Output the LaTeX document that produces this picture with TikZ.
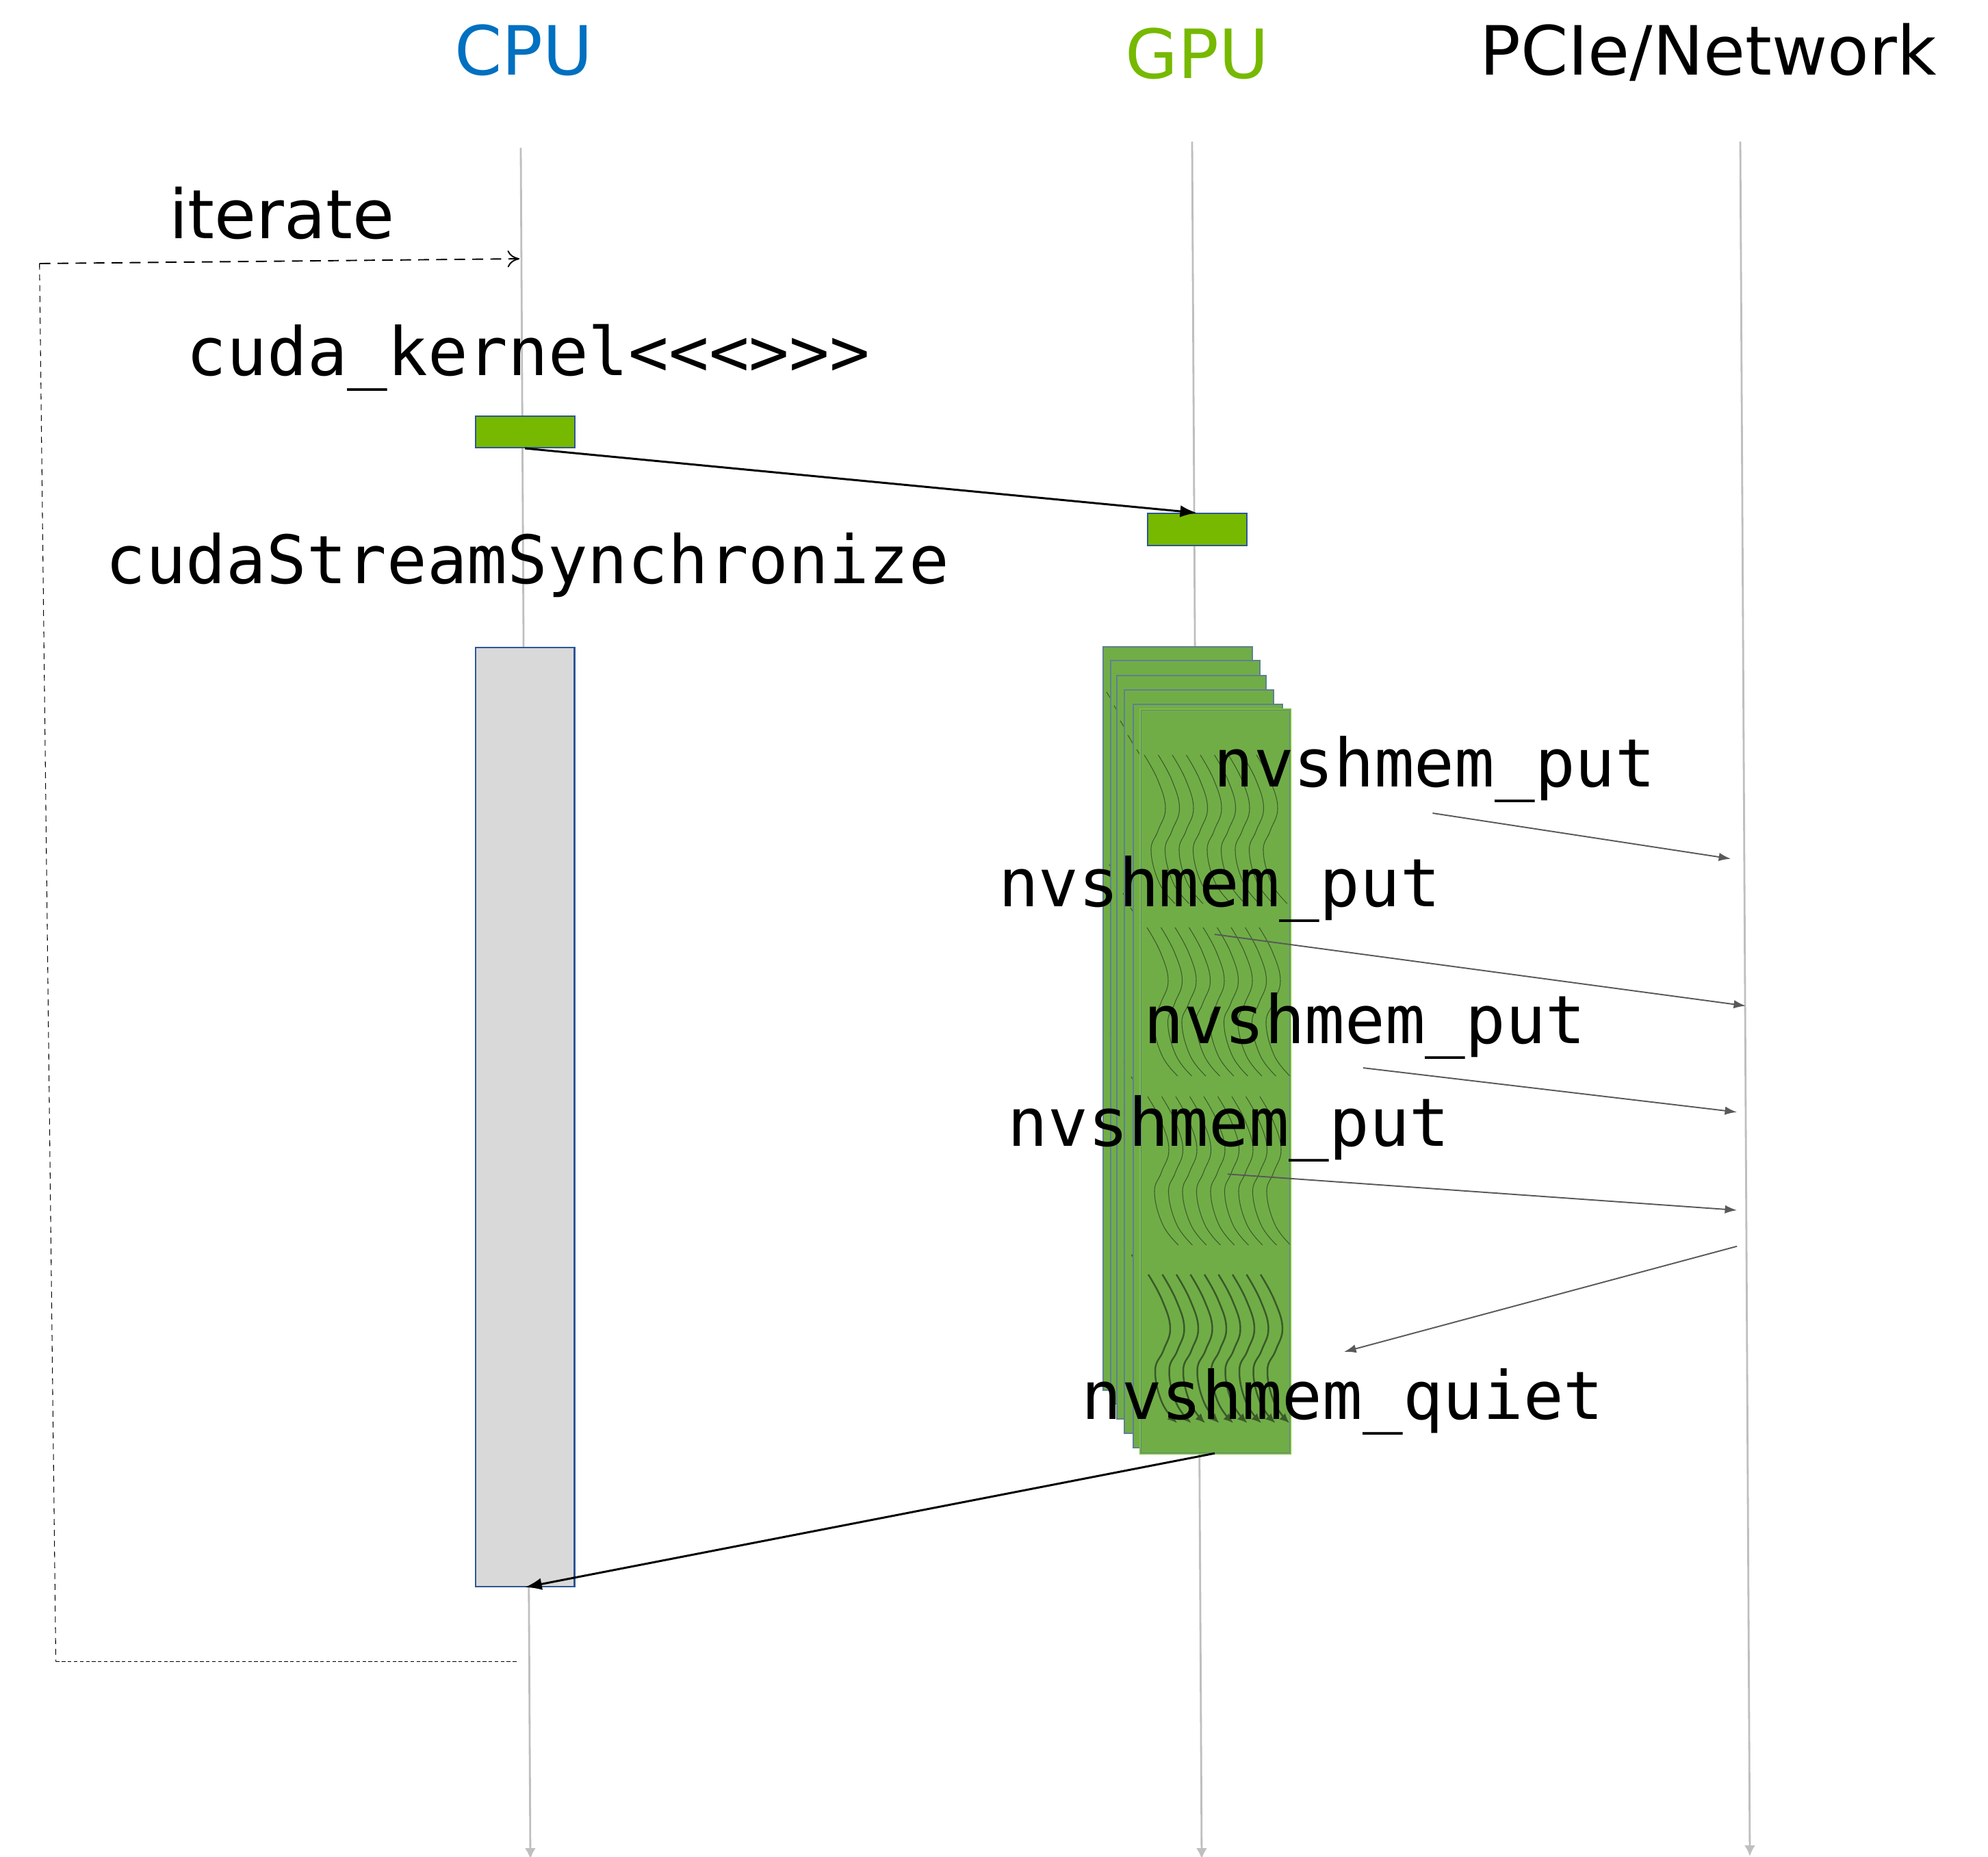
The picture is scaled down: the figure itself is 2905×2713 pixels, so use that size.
\documentclass[tikz,border=0pt]{standalone}
\usepackage{fontspec}
\setmainfont{DejaVu Sans}
\setmonofont{DejaVu Sans Mono}
\usetikzlibrary{arrows.meta,calc}
\definecolor{cpublue}{HTML}{0070C0}
\definecolor{gpugreen}{HTML}{76B900}
\definecolor{stackgreen}{HTML}{70AD47}
\definecolor{edgeblue}{HTML}{2F5597}
\definecolor{stackedge}{HTML}{5F8090}
\definecolor{frontedge}{HTML}{7CBF3A}
\definecolor{lifegray}{HTML}{BFBFBF}
\definecolor{putgray}{HTML}{595959}
\definecolor{wavegreen}{HTML}{3A5A28}
\tikzset{
  lifeline/.style={draw=lifegray, line width=1.6pt, -{Latex[length=9pt,width=9pt]}},
  msg/.style={draw=black, line width=1.7pt, -{Latex[length=14pt,width=10pt]}},
  putarrow/.style={draw=putgray, line width=1.1pt, -{Latex[length=10pt,width=7pt]}},
  title/.style={font=\fontsize{56.5}{60}\selectfont, inner sep=0pt},
  code/.style={font=\ttfamily\fontsize{55.5}{60}\selectfont, inner sep=0pt, anchor=base west},
  kbox/.style={draw=edgeblue, line width=1.1pt, fill=gpugreen, minimum width=2.9cm, minimum height=0.93cm, inner sep=0pt},
  syncbox/.style={draw=edgeblue, line width=1.3pt, fill=black!15, minimum width=2.9cm, minimum height=27.45cm, inner sep=0pt},
  stackbox/.style={draw=stackedge, line width=1.3pt, fill=stackgreen, minimum width=4.36cm, minimum height=21.72cm, inner sep=0pt},
  wave/.style={draw=wavegreen, line width=0.6pt},
  wavearrow/.style={draw=wavegreen, line width=1.4pt, -{Latex[length=8pt,width=7pt]}},
}
\begin{document}
\begin{tikzpicture}[x=0.02cm, y=-0.02cm]
\useasboundingbox (0,0) rectangle (2905,2713);
% lifelines (true coordinates)
\coordinate (cpuTop) at (761,216);
\coordinate (cpuBot) at (775,2716);
\coordinate (gpuTop) at (1742,207);
\coordinate (gpuBot) at (1756,2716);
\coordinate (netTop) at (2543,207);
\coordinate (netBot) at (2557,2712);
\draw[lifeline] (cpuTop) -- (cpuBot);
\draw[lifeline] (gpuTop) -- (gpuBot);
\draw[lifeline] (netTop) -- (netBot);
% stacked GPU thread blocks with waves
\foreach \L/\T [count=\n] in {1612/945, 1623/965, 1632/987, 1643/1008, 1656/1029, 1667/1037}{
  \node[stackbox] (s\n) at ({\L+109},{\T+543}) {};
  \begin{scope}
    \clip (s\n.south west) rectangle (s\n.north east);
    \foreach \gy/\gx/\arr in {66/5/0, 318/9/0, 565/10/0, 825/11/1}{
      \foreach \j in {0,...,8}{
        \pgfmathsetmacro{\xo}{\L+\gx+20.5*\j}
        \pgfmathsetmacro{\yo}{\T+\gy}
        \ifnum\arr=1
          \draw[wavearrow] plot[smooth, tension=0.7] coordinates {(\xo,\yo) ({\xo+20},{\yo+37}) ({\xo+32},{\yo+78}) ({\xo+22},{\yo+111}) ({\xo+10},{\yo+140}) ({\xo+20},{\yo+187}) ({\xo+42},{\yo+217})};
        \else
          \draw[wave] plot[smooth, tension=0.7] coordinates {(\xo,\yo) ({\xo+20},{\yo+37}) ({\xo+31},{\yo+78}) ({\xo+20},{\yo+111}) ({\xo+10},{\yo+140}) ({\xo+22},{\yo+187}) ({\xo+45},{\yo+217})};
        \fi
      }
    }
  \end{scope}
}
\draw[frontedge, line width=1.3pt] (s6.south west) rectangle (s6.north east);
\begin{scope}[scale=0.995]
% titles
\node[title, text=cpublue, anchor=base] (tcpu) at (769,110) {CPU};
\node[title, text=gpugreen, anchor=base] (tgpu) at (1758,115) {GPU};
\node[title, anchor=base west] (tnet) at (2173,110) {PCIe/Network};
% iterate loop
\node[title, anchor=base west] (titer) at (248,350) {iterate};
\coordinate (L1) at (58,387);
\coordinate (L2) at (82,2440);
\coordinate (L3) at (760,2440);
\coordinate (Lend) at (763,380);
\draw[line width=1.1pt, dash pattern=on 9pt off 6pt, -{To[length=10pt,width=14pt]}] (L1) -- (Lend);
\draw[line width=0.6pt, dash pattern=on 5pt off 4pt] (L1) -- (L2);
\draw[line width=0.8pt, dash pattern=on 3pt off 2pt] (L2) -- (L3);
% labels
\node[code] (lkern) at (274,551) {cuda\_kernel<<<>>>};
\node[code] (lsync) at (155,857) {cudaStreamSynchronize};
% boxes
\node[kbox] (k1) at (771,634) {};
\node[kbox] (g1) at (1758,777.5) {};
\node[syncbox] (sync) at (771,1640) {};
% nvshmem labels
\node[code] (lput1) at (1782,1155) {nvshmem\_put};
\node[code] (lput2) at (1466,1331) {nvshmem\_put};
\node[code] (lput3) at (1680,1532) {nvshmem\_put};
\node[code] (lput4) at (1480,1683) {nvshmem\_put};
\node[code] (lquiet) at (1588,2084) {nvshmem\_quiet};
% put arrows
\coordinate (p1s) at (2104,1194); \coordinate (p1e) at (2542,1261);
\coordinate (p2s) at (1784,1372); \coordinate (p2e) at (2564,1477);
\coordinate (p3s) at (2002,1568); \coordinate (p3e) at (2551,1633);
\coordinate (p4s) at (1803,1724); \coordinate (p4e) at (2551,1777);
\coordinate (qs) at (2551,1830); \coordinate (qe) at (1974,1985);
\draw[putarrow] (p1s) -- (p1e);
\draw[putarrow] (p2s) -- (p2e);
\draw[putarrow] (p3s) -- (p3e);
\draw[putarrow] (p4s) -- (p4e);
\draw[putarrow] (qs) -- (qe);
% messages
\draw[msg] (k1.south) -- (g1.north);
\coordinate (retS) at (1784,2134);
\draw[msg] (retS) -- (sync.south);
\end{scope}
\end{tikzpicture}
\end{document}
